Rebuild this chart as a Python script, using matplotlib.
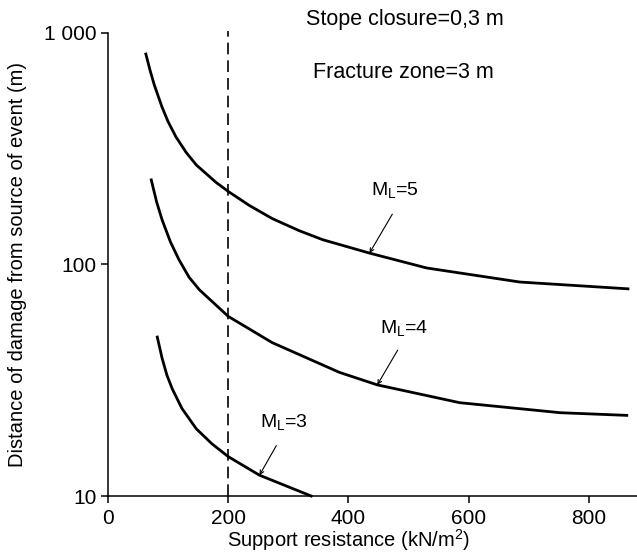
################################################################################
##### description #####
#distance of damage from the source of a seismic event vs support resistance
#for three local magnitudes (M_L = 3, 4, 5), stope closure 0.3 m, fracture zone 3 m

################################################################################
##### import packages #####
import matplotlib
matplotlib.use('Agg')
import matplotlib.pyplot as plt
from matplotlib.ticker import NullLocator

plt.rcParams['font.family'] = ['Liberation Sans', 'DejaVu Sans']

################################################################################
##### data #####
#support resistance (kN/m^2) and distance of damage (m) for each magnitude
ml5_x = [63, 70, 77, 90, 100, 113, 130, 147, 180, 201, 235, 273, 318, 357, 435, 530, 685, 865]
ml5_y = [811, 690, 597, 478, 414, 356, 305, 269, 226, 206, 180, 158, 140, 128, 112, 96.6, 84, 78.5]

ml4_x = [72, 81, 90, 104, 118, 135, 152, 200, 273, 385, 448, 585, 752, 863]
ml4_y = [232, 186, 156, 125, 105, 88, 77.8, 59.7, 46, 34.2, 30.2, 25.3, 22.9, 22.3]

ml3_x = [82, 90, 98, 107, 123, 147, 173, 200, 252, 338]
ml3_y = [48.6, 39.4, 33.3, 29, 23.9, 19.5, 16.8, 14.8, 12.3, 10]

support_limit = 200 #dashed line

x_ticks = [0, 200, 400, 600, 800]
y_ticks = [10, 100, 1000]
y_tick_labels = ['10', '100', '1 000']

#label text, label centre, arrow tail, arrow tip
curve_labels = [
    ('5', (478, 207), (473, 165), (435, 112)),
    ('4', (493, 52.7), (482, 42.7), (448, 30.2)),
    ('3', (292, 20.7), (280, 16.5), (252, 12.3)),
]

################################################################################
##### build the figure #####
fig = plt.figure(figsize=(6.37, 5.57), dpi=100)
ax = fig.add_axes([0.1695, 0.1095, 0.8305, 0.8313])

ax.set_yscale('log')
ax.set_xlim(0, 880)
ax.set_ylim(10, 1000)

for xs, ys in [(ml5_x, ml5_y), (ml4_x, ml4_y), (ml3_x, ml3_y)]:
    ax.plot(xs, ys, color='black', linewidth=2.0, solid_joinstyle='round', clip_on=False)

ax.plot([support_limit, support_limit], [10, 1020], color='black', linewidth=1.2,
        linestyle=(0, (7, 3.6)), clip_on=False)

for num, lab_pos, tail, tip in curve_labels:
    ax.annotate('', xy=tip, xytext=tail,
                arrowprops=dict(arrowstyle='->', color='black', lw=0.8,
                                mutation_scale=7, shrinkA=0, shrinkB=0))
    ax.text(lab_pos[0], lab_pos[1], 'M$_\\mathregular{L}$=' + num, fontsize=14,
            ha='center', va='center')

#notes at the top of the chart
ax.text(330, 1140, 'Stope closure=0,3 m', fontsize=15.5, ha='left', va='center', clip_on=False)
ax.text(341, 677, 'Fracture zone=3 m', fontsize=15.5, ha='left', va='center')

################################################################################
##### axes styling #####
ax.spines['top'].set_visible(False)
ax.spines['right'].set_visible(False)
ax.spines['left'].set_linewidth(1.1)
ax.spines['bottom'].set_linewidth(1.1)

ax.set_xticks(x_ticks)
ax.set_yticks(y_ticks)
ax.set_yticklabels(y_tick_labels)
ax.yaxis.set_minor_locator(NullLocator())
ax.tick_params(axis='both', direction='out', length=5, width=1.1, labelsize=15, pad=3)
ax.tick_params(axis='x', pad=4)

ax.set_ylabel('Distance of damage from source of event (m)', fontsize=14.5)
ax.yaxis.set_label_coords(-0.153, 0.5)
ax.set_xlabel('Support resistance (kN/m$^\\mathregular{2}$)', fontsize=14.5)
ax.xaxis.set_label_coords(400 / 880, -0.068)

################################################################################
##### save #####
fig.savefig('out.png', dpi=100)
